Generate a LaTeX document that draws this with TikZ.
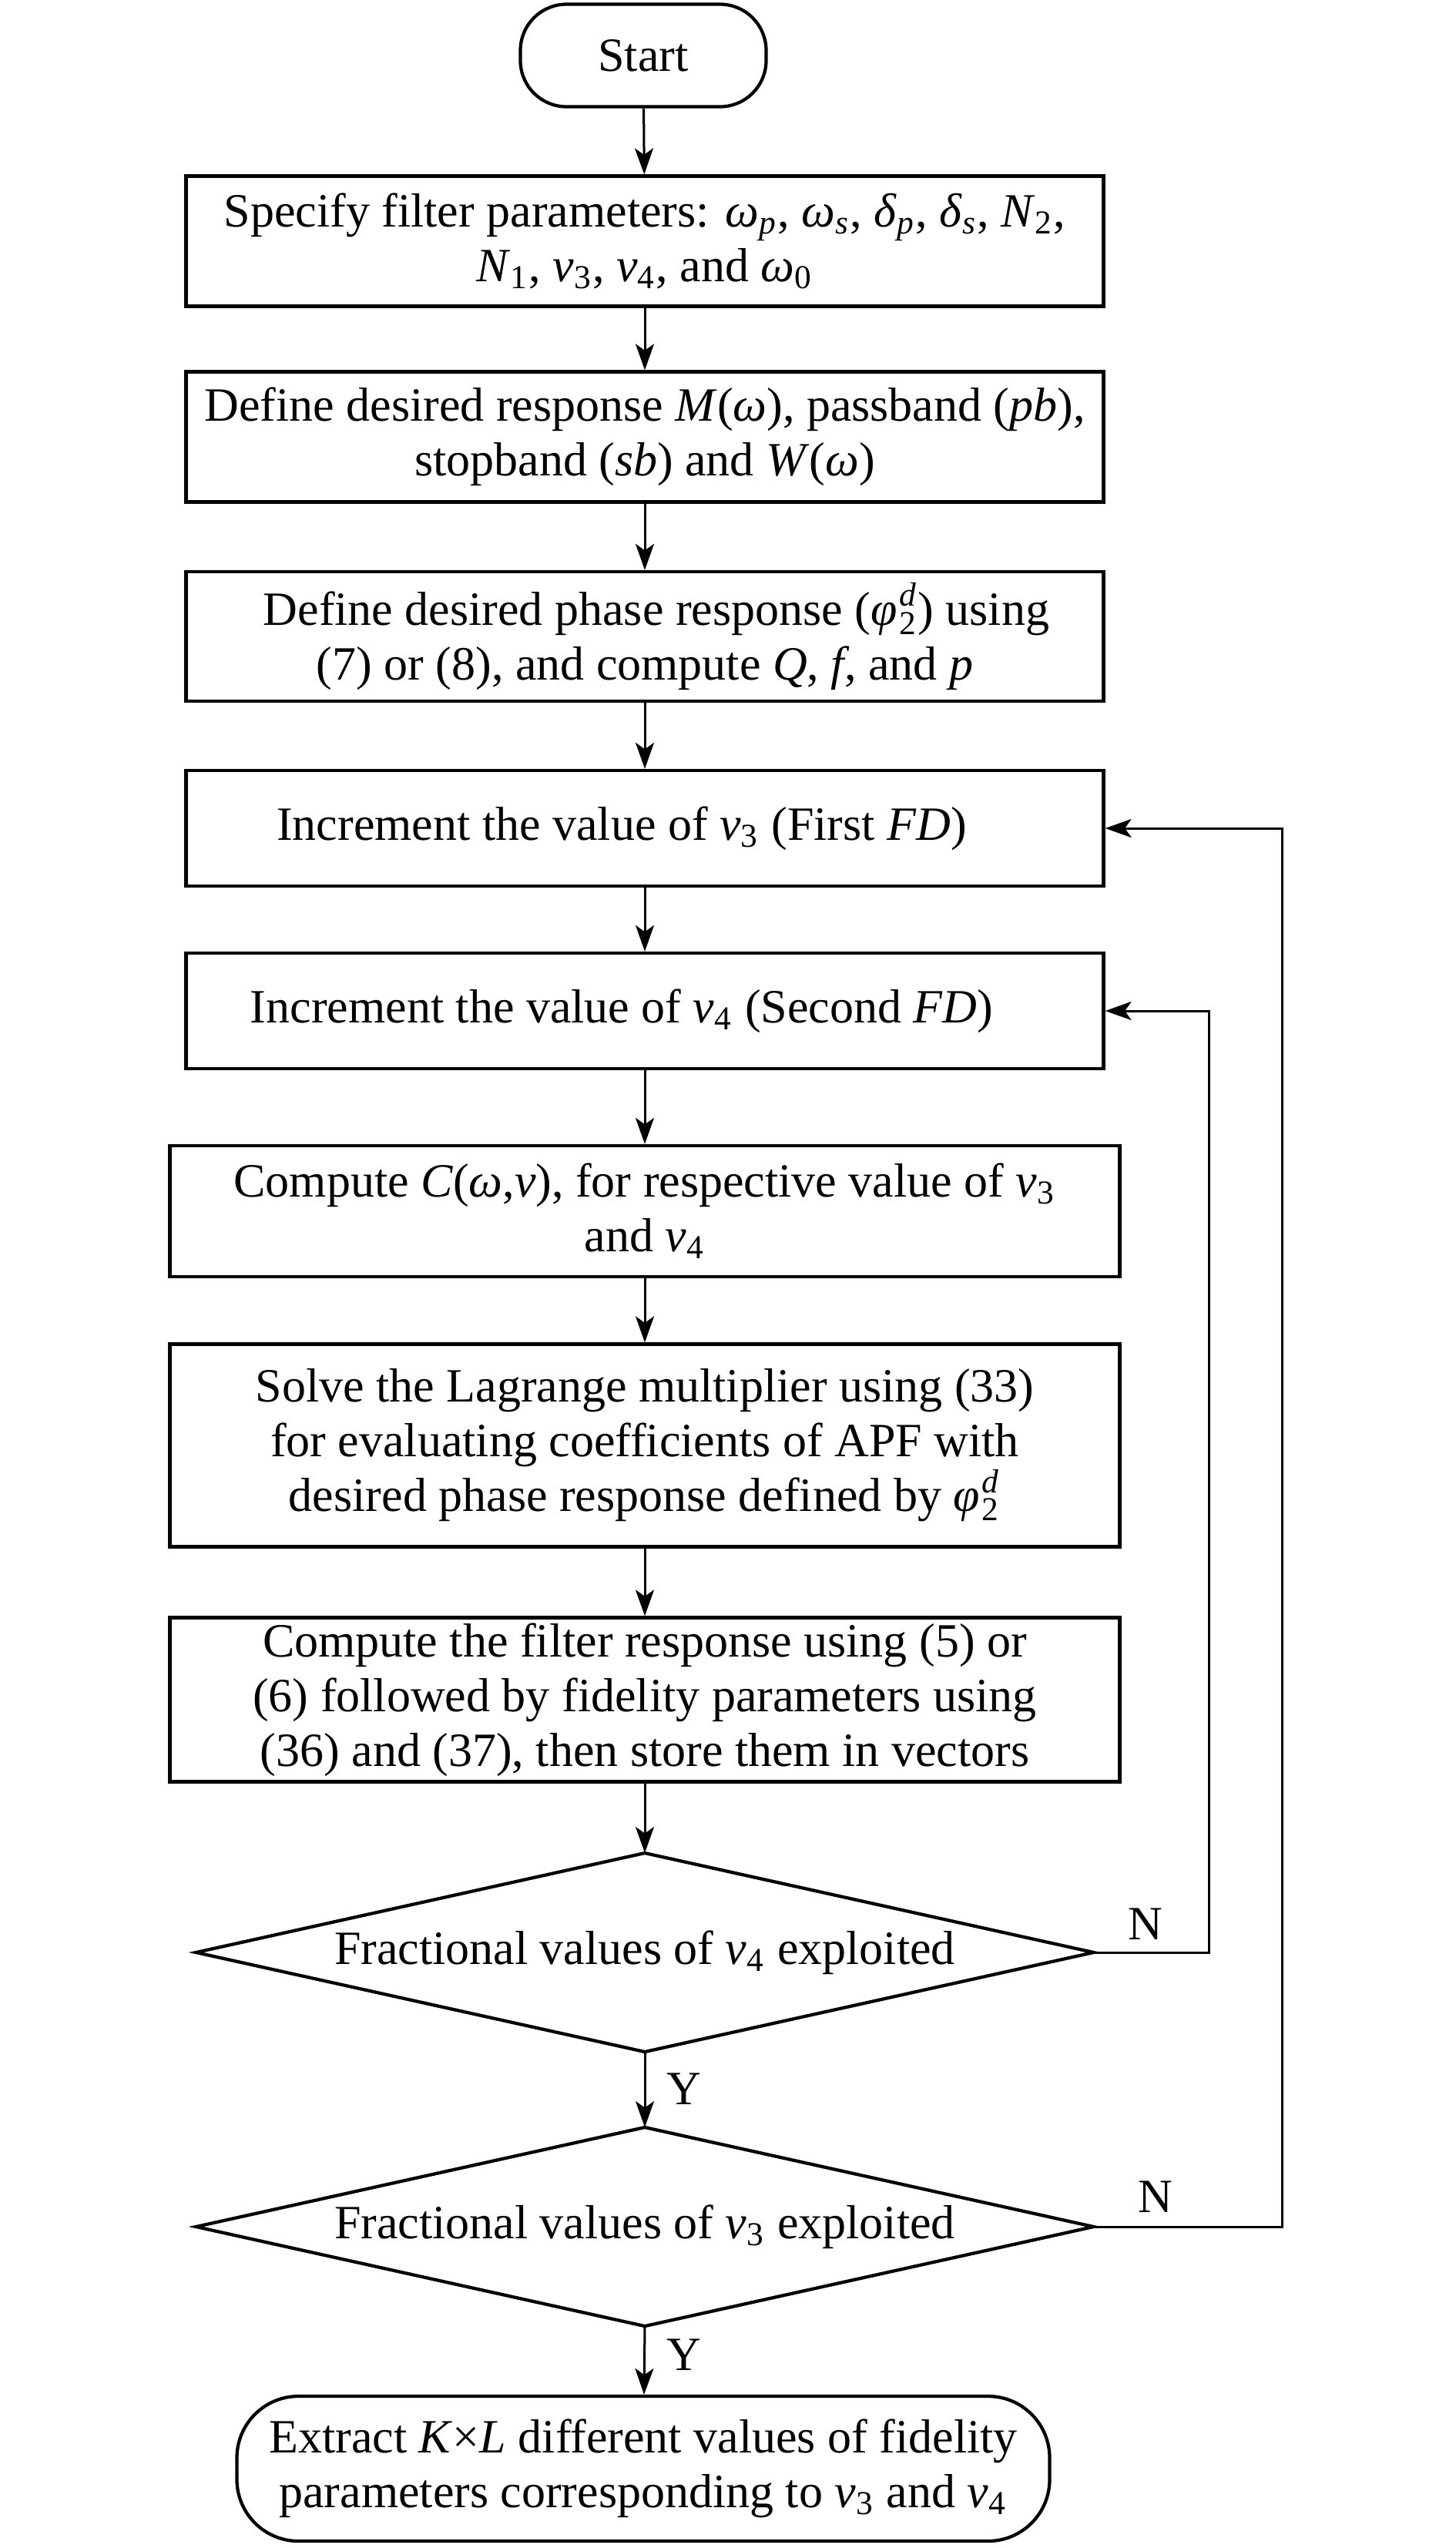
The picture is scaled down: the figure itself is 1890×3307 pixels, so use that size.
\documentclass[tikz,border=0pt]{standalone}
\usepackage{fontspec}
\setmainfont{Liberation Serif}
\usetikzlibrary{shapes.geometric,arrows.meta}
\newcommand\vv[1]{\textit{v}\textsubscript{#1}}
\newcommand\iw{\textit{ω}}
\newcommand\phid{\textit{φ}\kern0.6pt\rlap{\raisebox{0.6pt}{\textsuperscript{\textit{d}}}}\raisebox{-0.6pt}{\textsubscript{2}}}
\begin{document}
\begin{tikzpicture}[x=0.2pt,y=-0.2pt,
  font=\fontsize{12.4}{14.2}\selectfont,
  proc/.style={draw, line width=0.85pt, align=center, inner sep=1pt, minimum width=238.2pt},
  wideproc/.style={proc, minimum width=246.6pt},
  term/.style={draw, line width=0.85pt, align=center, inner sep=1pt},
  decision/.style={inner sep=0pt, minimum width=232.6pt, minimum height=51.2pt, align=center},
  dline/.style={line width=0.85pt, line join=miter},
  arr/.style={line width=0.6pt, -{Stealth[length=6.8pt,width=4.8pt,inset=1.7pt]}},
  lbl/.style={inner sep=0pt}]
\useasboundingbox (0,0) rectangle (1890,3307);

\node[term, rounded corners=12pt, minimum width=63.8pt, minimum height=26.6pt] (start) at (835,72) {Start};

\node[proc, minimum height=33.8pt] (b1) at (837,313) {Specify filter parameters: \textit{ω}\textsubscript{\textit{p}}, \textit{ω}\textsubscript{\textit{s}}, \textit{δ}\textsubscript{\textit{p}}, \textit{δ}\textsubscript{\textit{s}}, \textit{N}\textsubscript{2},\\ \textit{N}\textsubscript{1}, \vv{3}, \vv{4}, and \textit{ω}\textsubscript{0}};

\node[proc, minimum height=33.8pt] (b2) at (837,567) {Define desired response \textit{M}(\iw), passband (\textit{pb}),\\ stopband (\textit{sb}) and \textit{W}(\iw)};

\node[proc, minimum height=33.6pt] (b3) at (837,826) {\hspace*{6pt}Define desired phase response (\phid) using\\ (7) or (8), and compute \textit{Q}, \textit{f}, and \textit{p}};

\node[proc, minimum height=30pt] (b4) at (837,1075) {Increment the value of \vv{3} (First \textit{FD})\hspace*{12pt}};

\node[proc, minimum height=30pt] (b5) at (837,1312) {Increment the value of \vv{4} (Second \textit{FD})\hspace*{12pt}};

\node[wideproc, minimum height=34pt] (b6) at (837,1572) {Compute \textit{C}(\iw,\textit{v}), for respective value of \vv{3}\\ and \vv{4}};

\node[wideproc, minimum height=52.6pt] (b7) at (837,1876) {Solve the Lagrange multiplier using (33)\\ for evaluating coefficients of APF with\\ desired phase response defined by \phid};

\node[wideproc, minimum height=42.6pt] (b8) at (837,2206) {Compute the filter response using (5) or\\ (6) followed by fidelity parameters using\\ (36) and (37), then store them in vectors};

\node[decision] (d1) at (837,2534) {Fractional values of \vv{4} exploited};
\draw[dline] (d1.north) -- (d1.east) -- (d1.south) -- (d1.west) -- cycle;
\node[decision] (d2) at (837,2890) {Fractional values of \vv{3} exploited};
\draw[dline] (d2.north) -- (d2.east) -- (d2.south) -- (d2.west) -- cycle;

\node[term, rounded corners=16pt, minimum width=211pt, minimum height=37.6pt] (end) at (835,3204) {Extract \textit{K}×\textit{L} different values of fidelity\\ parameters corresponding to \vv{3} and \vv{4}};

\draw[arr] (start) -- (b1);
\draw[arr] (b1) -- (b2);
\draw[arr] (b2) -- (b3);
\draw[arr] (b3) -- (b4);
\draw[arr] (b4) -- (b5);
\draw[arr] (b5) -- (b6);
\draw[arr] (b6) -- (b7);
\draw[arr] (b7) -- (b8);
\draw[arr] (b8) -- (d1.north);
\draw[arr] (d1.south) -- (d2.north);
\draw[arr] (d2.south) -- (end);
\node[lbl] (y1) at (888,2711) {Y};
\node[lbl] (y2) at (888,3056) {Y};

\draw[arr] (d1.east) -- ++(150,0) coordinate (c1) |- (b5.east);
\draw[arr] (d2.east) -- ++(245,0) coordinate (c2) |- (b4.east);
\node[lbl] (n1) at (1487,2497) {N};
\node[lbl] (n2) at (1500,2851) {N};
\end{tikzpicture}
\end{document}
